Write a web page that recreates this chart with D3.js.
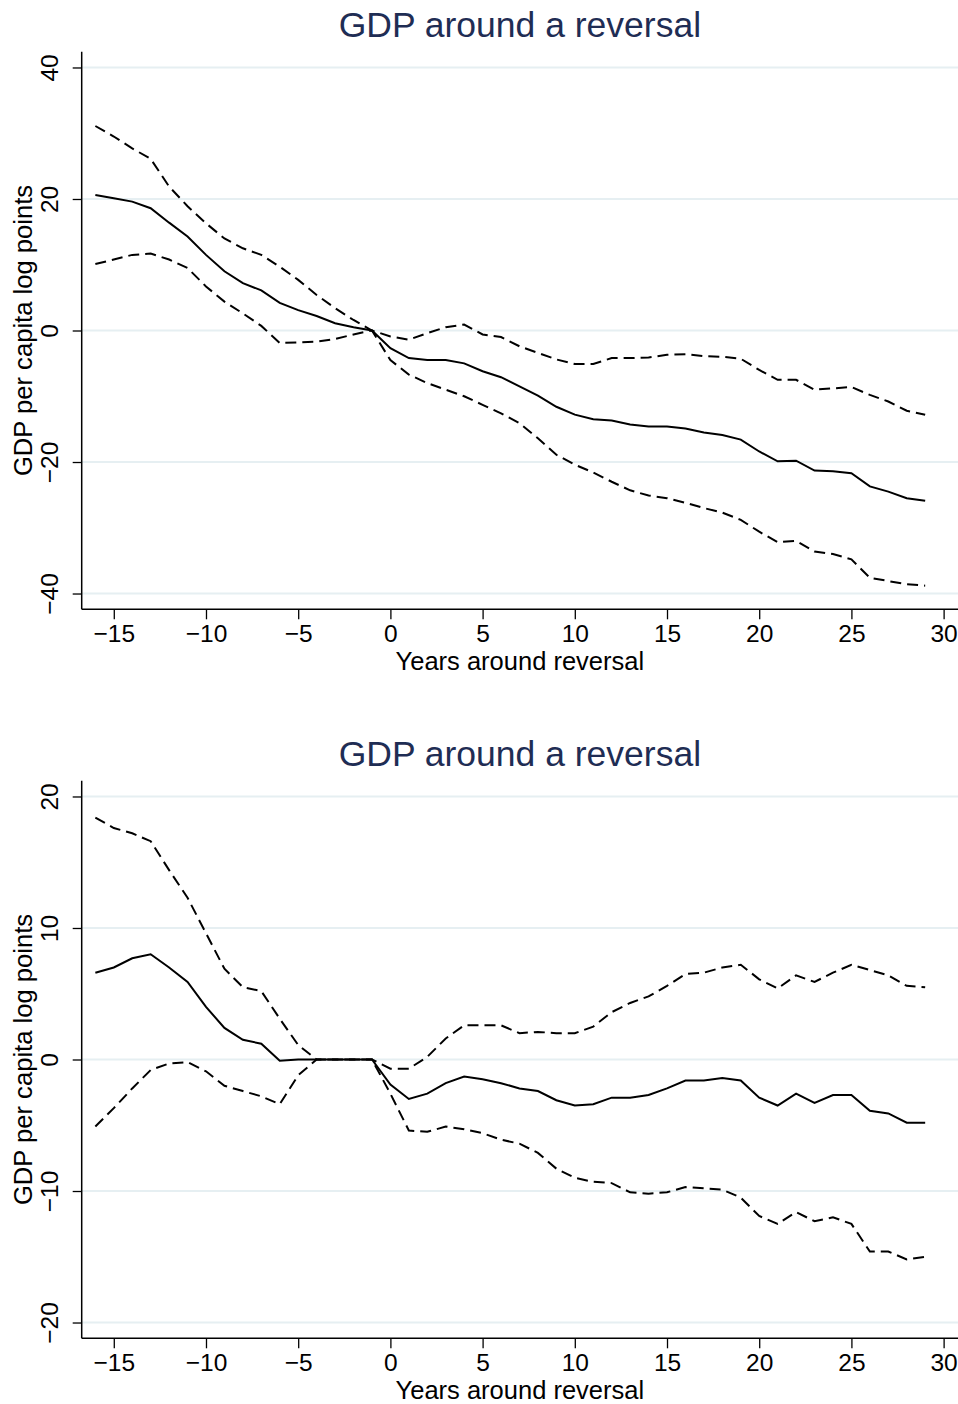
<!DOCTYPE html>
<html>
<head>
<meta charset="utf-8">
<script src="https://cdn.jsdelivr.net/npm/d3@7"></script>
<style>
  body { margin: 0; background: #fff; }
  text { font-family: "Liberation Sans", Arial, Helvetica, sans-serif; }
</style>
</head>
<body>
<div class="chart"></div>
<script>
// data: years around reversal
const years = [-16, -15, -14, -13, -12, -11, -10, -9, -8, -7, -6, -5, -4, -3, -2, -1,
  0, 1, 2, 3, 4, 5, 6, 7, 8, 9, 10, 11, 12, 13, 14, 15, 16, 17, 18, 19,
  20, 21, 22, 23, 24, 25, 26, 27, 28, 29];

// top panel
const topMean = [20.6, 20.1, 19.6, 18.6, 16.4, 14.3, 11.5, 9.0, 7.2, 6.1, 4.2, 3.1, 2.2, 1.1, 0.5, 0,
  -2.7, -4.2, -4.5, -4.5, -5.0, -6.2, -7.1, -8.5, -9.9, -11.6, -12.8, -13.5, -13.7, -14.3, -14.6,
  -14.6, -14.9, -15.5, -15.9, -16.6, -18.4, -19.9, -19.8, -21.3, -21.4, -21.7, -23.7, -24.5, -25.5, -25.9];
const topUpper = [31.1, 29.5, 27.7, 26.1, 21.9, 18.9, 16.3, 14.0, 12.5, 11.5, 9.7, 7.7, 5.4, 3.4, 1.6, 0,
  -0.9, -1.4, -0.4, 0.5, 0.9, -0.6, -1.0, -2.4, -3.4, -4.4, -5.1, -5.1, -4.2, -4.2, -4.1,
  -3.7, -3.6, -3.9, -4.0, -4.3, -6.0, -7.5, -7.5, -9.0, -8.8, -8.6, -9.8, -10.8, -12.2, -12.8];
const topLower = [10.1, 10.8, 11.5, 11.7, 10.8, 9.5, 6.7, 4.4, 2.6, 0.7, -1.9, -1.8, -1.7, -1.3, -0.6, 0,
  -4.5, -6.7, -8.0, -9.0, -10.0, -11.3, -12.6, -14.1, -16.4, -18.9, -20.4, -21.6, -23.0, -24.3, -25.1,
  -25.5, -26.2, -27.0, -27.7, -28.8, -30.6, -32.2, -32.0, -33.6, -34.0, -34.8, -37.6, -38.1, -38.6, -38.8];

// bottom panel
const botMean = [6.6, 7.0, 7.7, 8.0, 7.0, 5.9, 4.0, 2.4, 1.5, 1.2, -0.1, 0, 0, 0, 0, 0,
  -1.9, -3.0, -2.6, -1.8, -1.3, -1.5, -1.8, -2.2, -2.4, -3.1, -3.5, -3.4, -2.9, -2.9, -2.7,
  -2.2, -1.6, -1.6, -1.4, -1.6, -2.9, -3.5, -2.6, -3.3, -2.7, -2.7, -3.9, -4.1, -4.8, -4.8];
const botUpper = [18.4, 17.6, 17.2, 16.6, 14.4, 12.3, 9.6, 6.9, 5.5, 5.2, 3.1, 1.1, 0, 0, 0, 0,
  -0.7, -0.7, 0.2, 1.6, 2.6, 2.6, 2.6, 2.0, 2.1, 2.0, 2.0, 2.5, 3.6, 4.3, 4.8,
  5.6, 6.5, 6.6, 7.0, 7.2, 6.1, 5.4, 6.4, 5.9, 6.6, 7.2, 6.8, 6.4, 5.6, 5.5];
const botLower = [-5.1, -3.7, -2.2, -0.8, -0.3, -0.2, -0.9, -2.0, -2.4, -2.8, -3.4, -1.2, 0, 0, 0, 0,
  -2.6, -5.4, -5.5, -5.1, -5.3, -5.6, -6.1, -6.4, -7.1, -8.3, -9.0, -9.3, -9.4, -10.1, -10.2,
  -10.1, -9.7, -9.8, -9.9, -10.5, -11.9, -12.5, -11.6, -12.3, -12.0, -12.5, -14.6, -14.6, -15.2, -15.0];

// tick labels
const xTicks = [-15, -10, -5, 0, 5, 10, 15, 20, 25, 30];
const topYTicks = [-40, -20, 0, 20, 40];
const botYTicks = [-20, -10, 0, 10, 20];

const titleText = "GDP around a reversal";
const xTitle = "Years around reversal";
const yTitle = "GDP per capita log points";

// setup
const width = 958;
const height = 1404;
const panelOffset = 729;
const plotLeft = 81.7;
const plotRight = 958;
const plotTop = 51.7;
const plotBottom = 609.3;

const svg = d3.select(".chart")
  .append("svg")
  .attr("width", width)
  .attr("height", height);

const xScale = d3.scaleLinear()
  .domain([-16.74, 30.78])
  .range([plotLeft, plotRight]);

const fmt = (d) => (d < 0 ? "\u2212" + Math.abs(d) : String(d));

function drawPanel(offset, yDomain, yTicks, mean, upper, lower) {
  const g = svg.append("g").attr("transform", `translate(0, ${offset})`);

  const yScale = d3.scaleLinear()
    .domain(yDomain)
    .range([plotBottom, plotTop]);

  // gridlines
  g.append("g")
    .selectAll("line")
    .data(yTicks)
    .enter()
    .append("line")
    .attr("x1", plotLeft)
    .attr("x2", plotRight)
    .attr("y1", (d) => yScale(d))
    .attr("y2", (d) => yScale(d))
    .attr("stroke", "#e6eff2")
    .attr("stroke-width", 1.8);

  // title
  g.append("text")
    .attr("x", (plotLeft + plotRight) / 2)
    .attr("y", 36.7)
    .attr("text-anchor", "middle")
    .attr("font-size", 35.5)
    .attr("fill", "#1f2d54")
    .text(titleText);

  // x axis
  const xAxis = d3.axisBottom(xScale)
    .tickValues(xTicks)
    .tickSize(10)
    .tickPadding(5)
    .tickFormat(fmt);
  const xg = g.append("g")
    .attr("transform", `translate(0, ${plotBottom})`)
    .call(xAxis);
  xg.select(".domain").attr("stroke", "#000").attr("stroke-width", 1.5)
    .attr("d", `M${plotLeft},0H${plotRight}`);
  xg.selectAll(".tick line").attr("stroke", "#000").attr("stroke-width", 1.3);
  xg.selectAll(".tick text").attr("font-size", 24.5).attr("fill", "#000")
    .attr("font-family", "Liberation Sans, Arial, sans-serif");

  // y axis
  const yAxis = d3.axisLeft(yScale)
    .tickValues(yTicks)
    .tickSize(9)
    .tickFormat(fmt);
  const yg = g.append("g")
    .attr("transform", `translate(${plotLeft}, 0)`)
    .call(yAxis);
  yg.select(".domain").attr("stroke", "#000").attr("stroke-width", 1.5)
    .attr("d", `M0,${plotTop}V${plotBottom}`);
  yg.selectAll(".tick line").attr("stroke", "#000").attr("stroke-width", 1.3);
  yg.selectAll(".tick text")
    .attr("font-size", 24.5)
    .attr("fill", "#000")
    .attr("font-family", "Liberation Sans, Arial, sans-serif")
    .attr("x", null)
    .attr("dy", null)
    .attr("text-anchor", "middle")
    .attr("transform", "translate(-23.5, 0) rotate(-90)");

  // axis titles
  g.append("text")
    .attr("x", (plotLeft + plotRight) / 2)
    .attr("y", 670)
    .attr("text-anchor", "middle")
    .attr("font-size", 25.5)
    .attr("fill", "#000")
    .text(xTitle);
  g.append("text")
    .attr("transform", `translate(32, ${(plotTop + plotBottom) / 2}) rotate(-90)`)
    .attr("text-anchor", "middle")
    .attr("font-size", 25.6)
    .attr("fill", "#000")
    .text(yTitle);

  // lines
  const line = d3.line()
    .x((d, i) => xScale(years[i]))
    .y((d) => yScale(d));

  [
    { values: upper, dash: "11,6" },
    { values: lower, dash: "11,6" },
    { values: mean, dash: null }
  ].forEach((s) => {
    g.append("path")
      .datum(s.values)
      .attr("d", line)
      .attr("fill", "none")
      .attr("stroke", "#000")
      .attr("stroke-width", 2)
      .attr("stroke-dasharray", s.dash);
  });
}

drawPanel(0, [-42.4, 42.4], topYTicks, topMean, topUpper, topLower);
drawPanel(panelOffset, [-21.2, 21.2], botYTicks, botMean, botUpper, botLower);
</script>
</body>
</html>
